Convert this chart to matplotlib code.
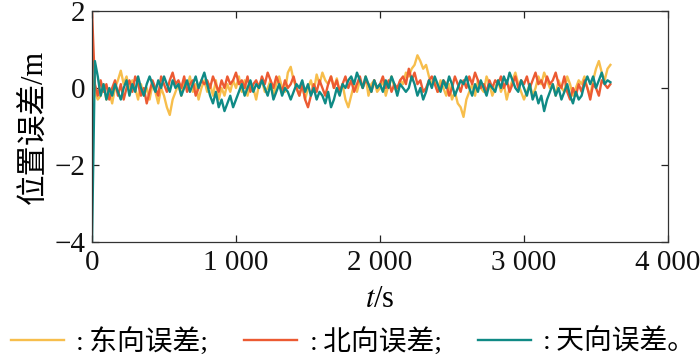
import numpy as np
import matplotlib
matplotlib.use("Agg")
import matplotlib.pyplot as plt

plt.rcParams['font.family'] = ['Liberation Serif', 'Noto Sans CJK SC']
plt.rcParams['mathtext.fontset'] = 'stix'

# time axis (s), sampled every 20 s
t_step = 20
t_end = 3600

east = [
    0.3, -0.1, -0.3, -0.2, 0.1, -0.3, -0.1, -0.4, 0.0, 0.2,
    0.45, 0.1, 0.3, -0.1, 0.2, 0.0, -0.3, 0.1, -0.2, 0.0,
    -0.3, 0.1, -0.1, -0.4, 0.0, -0.2, -0.5, -0.7, -0.3, -0.1,
    0.1, -0.2, 0.2, 0.0, 0.3, -0.1, 0.1, -0.3, 0.0, 0.2,
    -0.1, 0.1, -0.2, 0.2, -0.3, 0.0, -0.2, 0.1, -0.1, 0.2,
    0.0, 0.3, -0.1, 0.2, -0.2, 0.1, 0.0, -0.3, 0.1, 0.2,
    -0.1, 0.0, 0.2, -0.2, 0.1, 0.3, 0.0, -0.1, 0.4, 0.55,
    0.2, 0.0, -0.2, 0.1, -0.3, 0.0, 0.2, -0.1, 0.35, 0.1,
    0.4, 0.2, 0.1, 0.3, 0.0, 0.25, -0.1, 0.1, -0.3, -0.5,
    -0.2, 0.1, -0.1, 0.2, 0.0, 0.3, -0.2, 0.1, 0.2, -0.1,
    0.0, 0.2, -0.2, 0.1, 0.3, 0.0, -0.1, 0.2, 0.1, 0.4,
    0.3, 0.5, 0.6, 0.85, 0.7, 0.5, 0.6, 0.3, 0.1, 0.2,
    -0.1, 0.2, 0.0, -0.2, 0.1, -0.3, -0.1, -0.4, -0.5, -0.75,
    -0.3, -0.1, 0.1, -0.2, 0.2, 0.0, -0.1, 0.3, 0.1, -0.2,
    0.0, 0.2, -0.1, 0.1, -0.3, 0.0, 0.2, 0.4, 0.1, -0.1,
    -0.3, -0.1, 0.1, -0.2, 0.0, 0.3, 0.1, 0.4, 0.2, 0.0,
    0.1, -0.2, 0.2, 0.0, -0.1, 0.3, 0.1, -0.2, 0.0, 0.2,
    0.1, 0.3, 0.0, -0.2, 0.2, 0.5, 0.7, 0.4, 0.2, 0.5,
    0.6,
]

north = [
    2.0, 0.1, -0.2, 0.2, -0.1, 0.1, -0.3, 0.0, 0.2, -0.2,
    0.1, -0.3, 0.0, 0.2, -0.1, 0.3, 0.1, -0.2, 0.0, -0.4,
    -0.1, 0.2, 0.0, -0.2, 0.3, 0.1, -0.1, 0.2, 0.4, 0.1,
    0.2, 0.0, 0.3, -0.1, 0.1, 0.2, -0.2, 0.0, 0.2, 0.1,
    0.2, 0.0, 0.3, 0.1, -0.1, 0.2, 0.0, 0.3, 0.1, 0.2,
    0.4, 0.1, 0.2, 0.0, 0.3, -0.1, 0.1, 0.2, 0.0, 0.3,
    0.1, 0.4, 0.2, 0.0, 0.3, 0.1, -0.1, 0.2, 0.0, 0.1,
    0.3, 0.0, -0.2, 0.1, -0.3, -0.5, -0.2, 0.1, -0.1, 0.2,
    0.0, -0.2, 0.1, 0.3, 0.0, 0.2, -0.1, 0.1, 0.3, 0.0,
    0.2, -0.1, 0.1, 0.3, 0.0, 0.2, 0.1, -0.1, 0.2, 0.0,
    0.1, 0.3, 0.0, 0.2, -0.1, 0.1, 0.0, 0.2, 0.3, 0.1,
    0.5, 0.2, 0.4, 0.1, 0.2, -0.1, 0.0, 0.2, 0.3, 0.1,
    -0.1, 0.0, 0.2, 0.1, -0.2, 0.0, 0.3, 0.1, -0.1, 0.2,
    0.0, 0.3, 0.1, 0.4, 0.2, 0.0, 0.1, -0.1, 0.2, 0.0,
    0.2, 0.1, 0.3, 0.0, 0.2, -0.1, 0.1, 0.3, 0.0, 0.2,
    0.1, 0.3, 0.0, 0.2, 0.4, 0.1, 0.2, 0.0, 0.3, 0.1,
    0.2, 0.4, 0.1, 0.0, 0.3, -0.1, -0.3, 0.0, -0.2, 0.1,
    -0.1, 0.2, 0.0, -0.3, 0.1, 0.0, -0.2, 0.2, 0.1, 0.0,
    0.1,
]

up = [
    -4.0, 0.7, 0.3, -0.2, 0.1, -0.3, 0.0, -0.2, 0.1, -0.1,
    -0.3, 0.0, 0.2, -0.2, 0.1, -0.1, 0.3, 0.0, -0.2, 0.1,
    0.3, 0.1, -0.1, 0.2, 0.0, 0.3, 0.1, -0.1, 0.2, 0.0,
    0.1, -0.2, 0.0, 0.2, -0.1, 0.1, 0.3, 0.0, 0.2, 0.4,
    0.1, -0.2, -0.4, -0.1, -0.5, -0.3, -0.6, -0.4, -0.2, -0.5,
    -0.3, -0.1, 0.1, -0.2, 0.0, 0.2, -0.1, 0.1, 0.0, 0.2,
    0.0, -0.2, 0.1, -0.3, -0.1, 0.1, -0.2, 0.0, -0.1, -0.3,
    -0.1, 0.1, 0.0, 0.2, -0.1, 0.1, -0.2, 0.0, -0.3, -0.1,
    -0.2, -0.4, -0.1, -0.5, -0.3, 0.0, -0.2, 0.1, 0.0, 0.2,
    0.3, 0.1, 0.4, 0.2, 0.0, 0.3, 0.1, -0.1, 0.2, 0.0,
    0.1, -0.1, 0.2, 0.0, 0.3, 0.1, -0.2, 0.1, 0.0, -0.1,
    0.0, 0.3, 0.1, -0.2, 0.0, -0.3, -0.1, 0.2, 0.0, 0.3,
    0.1, -0.1, 0.2, 0.0, 0.3, 0.1, -0.2, 0.0, 0.2, 0.1,
    0.3, 0.0, -0.2, 0.1, -0.1, 0.2, 0.0, -0.2, 0.1, 0.0,
    -0.1, 0.2, 0.0, 0.3, 0.1, 0.4, 0.2, 0.0, -0.1, 0.2,
    0.0, -0.2, 0.1, -0.3, -0.1, -0.4, -0.2, -0.6, -0.3, -0.1,
    0.1, -0.2, 0.0, -0.3, -0.1, 0.1, -0.2, -0.4, -0.1, -0.3,
    -0.2, 0.1, 0.3, 0.1, 0.3, 0.0, 0.2, 0.4, 0.1, 0.2,
    0.15,
]

labels = [':\u2009东向误差;', ':\u2009北向误差;', ':\u2009天向误差。']
colors = ['#F7BE4C', '#EC5A32', '#0F8A85']

xticks = [0, 1000, 2000, 3000, 4000]
xticklabels = ['0', '1 000', '2 000', '3 000', '4 000']
yticks = [-4, -2, 0, 2]
yticklabels = ['\u22124', '\u22122', '0', '2']

t = np.arange(0, t_end + 1, t_step)

fig = plt.figure(figsize=(7.0, 3.58), dpi=100)
ax = fig.add_axes([92/700, (358-242)/358, (668-92)/700, (242-11)/358])

handles = []
for series, c, lab in zip([east, north, up], colors, labels):
    h, = ax.plot(t, series, color=c, lw=1.7, label=lab)
    handles.append(h)

ax.set_xlim(0, 4000)
ax.set_ylim(-4, 2)
ax.set_xticks(xticks)
ax.set_xticklabels(xticklabels)
ax.set_yticks(yticks)
ax.set_yticklabels(yticklabels)
ax.tick_params(direction='in', top=True, right=True, length=5, width=0.9,
               labelsize=21, colors='#222222', labelcolor='#111111')
ax.tick_params(axis='x', pad=6)
ax.tick_params(axis='y', pad=5)
for s in ax.spines.values():
    s.set_color('#333333')
    s.set_linewidth(0.9)

ax.set_xlabel('$t$/s', fontsize=22, labelpad=6)
ax.set_ylabel('位置误差/m', fontsize=22, labelpad=4)

fig.legend(handles, labels, loc='lower left', bbox_to_anchor=(-0.008, -0.04),
           ncol=3, frameon=False, handlelength=1.9,
           handletextpad=0.45, columnspacing=1.3, borderaxespad=0.2,
           prop={'family': ['Liberation Serif', 'Noto Sans CJK SC'], 'size': 20})

fig.savefig('out.png', dpi=100)
